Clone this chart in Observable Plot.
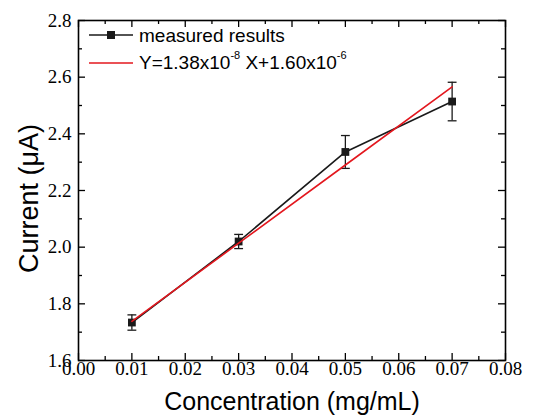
<!DOCTYPE html>
<html><head><meta charset="utf-8">
<script src="https://cdn.jsdelivr.net/npm/d3@7"></script>
<script src="https://cdn.jsdelivr.net/npm/@observablehq/plot@0.6"></script>
<style>
body{margin:0;background:#fff;}
#wrap{position:relative;width:549px;height:418px;}
#legend{position:absolute;left:89px;top:21px;font-family:"Liberation Sans",Arial,sans-serif;font-size:19px;color:#000;line-height:1;}
.row{display:flex;align-items:center;height:28px;white-space:nowrap;}
.row svg{width:44px;height:12px;margin-right:6px;flex:none;}
sup{font-size:11px;position:relative;top:-3px;}
</style></head>
<body><div id="wrap"><div id="legend"></div></div>
<script>
const concentration = [0.01, 0.03, 0.05, 0.07];
const current = [1.734, 2.020, 2.336, 2.514];
const errorBar = [0.027, 0.025, 0.058, 0.068];
const fitCurrent = [1.738, 2.014, 2.290, 2.566];
const xMajorTicks = [0, 0.01, 0.02, 0.03, 0.04, 0.05, 0.06, 0.07, 0.08];
const xMinorTicks = [0.005, 0.015, 0.025, 0.035, 0.045, 0.055, 0.065, 0.075];
const yMajorTicks = [1.6, 1.8, 2.0, 2.2, 2.4, 2.6, 2.8];
const yMinorTicks = [1.7, 1.9, 2.1, 2.3, 2.5, 2.7];
const xTitle = "Concentration (mg/mL)";
const yTitle = "Current (\u03bcA)";
const seriesNames = ["measured results", "Y=1.38x10<sup>-8</sup> X+1.60x10<sup>-6</sup>"];
const seriesColors = ["#1a1a1a", "#e3171e"];

const measured = concentration.map((c, i) => ({x: c, y: current[i], lo: current[i] - errorBar[i], hi: current[i] + errorBar[i]}));
const fit = concentration.map((c, i) => ({x: c, y: fitCurrent[i]}));

const W = 549, H = 418, mL = 78, mR = 44, mT = 20, mB = 58;
const pw = W - mL - mR, ph = H - mT - mB;
const capSymbol = {draw(ctx, size) { const r = Math.sqrt(size) / 2; ctx.moveTo(-r, 0); ctx.lineTo(r, 0); }};
const serif = "Liberation Serif";
const sans = "Liberation Sans";
const fx = d3.format(".2f"), fy = d3.format(".1f");

const chart = Plot.plot({
  width: W, height: H,
  marginLeft: mL, marginRight: mR, marginTop: mT, marginBottom: mB,
  x: {domain: [0, 0.08], axis: null},
  y: {domain: [1.6, 2.8], axis: null},
  style: {background: "#fff", color: "#000"},
  marks: [
    // inward ticks on all four sides
    Plot.tickX(xMajorTicks, {x: d => d, stroke: "#000", strokeWidth: 1.3, insetTop: ph - 7}),
    Plot.tickX(xMajorTicks, {x: d => d, stroke: "#000", strokeWidth: 1.3, insetBottom: ph - 7}),
    Plot.tickX(xMinorTicks, {x: d => d, stroke: "#000", strokeWidth: 1.3, insetTop: ph - 4}),
    Plot.tickX(xMinorTicks, {x: d => d, stroke: "#000", strokeWidth: 1.3, insetBottom: ph - 4}),
    Plot.tickY(yMajorTicks, {y: d => d, stroke: "#000", strokeWidth: 1.3, insetRight: pw - 7}),
    Plot.tickY(yMajorTicks, {y: d => d, stroke: "#000", strokeWidth: 1.3, insetLeft: pw - 7}),
    Plot.tickY(yMinorTicks, {y: d => d, stroke: "#000", strokeWidth: 1.3, insetRight: pw - 4}),
    Plot.tickY(yMinorTicks, {y: d => d, stroke: "#000", strokeWidth: 1.3, insetLeft: pw - 4}),
    Plot.frame({stroke: "#000", strokeWidth: 1.6}),
    Plot.text(xMajorTicks, {x: d => d, text: d => fx(d), frameAnchor: "bottom", dy: 1, lineAnchor: "top", textAnchor: "middle", fontSize: 19, fontFamily: serif, fill: "#000", ariaLabel: "xticklabel"}),
    Plot.text(yMajorTicks, {y: d => d, text: d => fy(d), frameAnchor: "left", dx: -7, textAnchor: "end", fontSize: 19, fontFamily: serif, fill: "#000", ariaLabel: "yticklabel"}),
    Plot.text([xTitle], {frameAnchor: "bottom", dy: 49, lineAnchor: "bottom", textAnchor: "middle", fontSize: 25, fontFamily: sans, fill: "#000"}),
    Plot.text([yTitle], {frameAnchor: "left", dx: -41, dy: 8, rotate: -90, lineAnchor: "bottom", textAnchor: "middle", fontSize: 27, fontFamily: sans, fill: "#000"}),
    // measured series
    Plot.line(measured, {x: "x", y: "y", stroke: seriesColors[0], strokeWidth: 1.6}),
    Plot.ruleX(measured, {x: "x", y1: "lo", y2: "hi", stroke: seriesColors[0], strokeWidth: 1.3}),
    Plot.dot(measured, {x: "x", y: "lo", symbol: capSymbol, r: 5, stroke: seriesColors[0], strokeWidth: 1.3, fill: "none"}),
    Plot.dot(measured, {x: "x", y: "hi", symbol: capSymbol, r: 5, stroke: seriesColors[0], strokeWidth: 1.3, fill: "none"}),
    Plot.dot(measured, {x: "x", y: "y", symbol: "square", r: 4.4, fill: seriesColors[0], stroke: "none"}),
    // linear fit
    Plot.line(fit, {x: "x", y: "y", stroke: seriesColors[1], strokeWidth: 1.6})
  ]
});
// make sure the tick labels use the serif face
chart.querySelectorAll('g[aria-label="xticklabel"] text, g[aria-label="yticklabel"] text').forEach(t => {
  t.style.fontFamily = "'Liberation Serif', 'Times New Roman', serif";
  t.style.fontSize = "19px";
});
const wrap = document.getElementById("wrap");
wrap.insertBefore(chart, wrap.firstChild);

const legend = document.getElementById("legend");
seriesNames.forEach((name, i) => {
  const row = document.createElement("div");
  row.className = "row";
  const marker = i === 0 ? `<rect x="18" y="2" width="8" height="8" fill="${seriesColors[0]}"/>` : "";
  row.innerHTML = `<svg viewBox="0 0 44 12"><line x1="0" x2="44" y1="6" y2="6" stroke="${seriesColors[i]}" stroke-width="1.6"/>${marker}</svg><span>${name}</span>`;
  legend.appendChild(row);
});
</script>
</body></html>
